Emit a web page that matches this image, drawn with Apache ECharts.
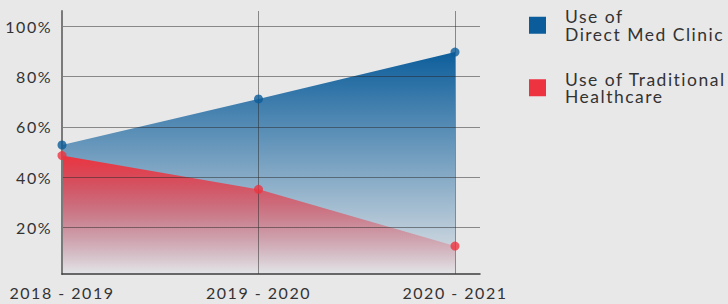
<!DOCTYPE html>
<html><head><meta charset="utf-8">
<script src="https://cdn.jsdelivr.net/npm/echarts@6/dist/echarts.min.js"></script>
<style>
html,body{margin:0;padding:0;background:#e8e8e9;}
#c{width:728px;height:304px;}
#c svg text{letter-spacing:1.5px;}
</style></head><body><div id="c"></div>
<script>
const categories = ['2018 - 2019', '2019 - 2020', '2020 - 2021'];
const directMed = [52.8, 71.1, 89.7];
const traditional = [48.6, 35.2, 12.7];
const seriesNames = ['Use of\nDirect Med Clinic', 'Use of Traditional\nHealthcare'];
const seriesColors = ['#0b5c9a', '#ee3340'];

const FONT = 'Lato';
const chart = echarts.init(document.getElementById('c'), null, {renderer: 'svg'});

function fade(rgb, a0, a1) {
  return new echarts.graphic.LinearGradient(0, 0, 0, 1, [
    {offset: 0, color: 'rgba(' + rgb + ',' + a0 + ')'},
    {offset: 1, color: 'rgba(' + rgb + ',' + a1 + ')'}
  ]);
}

chart.setOption({
  backgroundColor: '#e8e8e9',
  animation: false,
  legend: {
    orient: 'vertical', left: 524, top: 2.5, padding: 5,
    itemWidth: 17, itemHeight: 17, itemGap: 27,
    icon: 'rect',
    data: seriesNames.map((n, i) => ({name: n, icon: 'rect', itemStyle: {color: seriesColors[i]}})),
    textStyle: {fontFamily: FONT, fontSize: 17.5, lineHeight: 17.5, color: '#333', padding: [0, 0, 0, 14]}
  },
  grid: [
    {left: 62, right: 248, top: 11, bottom: 30},
    {left: 62, right: 248, top: 26, bottom: 26},
    {left: 62, right: 273, top: 11, bottom: 30}
  ],
  xAxis: [
    {gridIndex: 0, type: 'value', min: 0, max: 1, z: 5,
     axisLine: {show: true, lineStyle: {color: '#3c3c3c', width: 1.5}},
     axisTick: {show: false}, axisLabel: {show: false}, splitLine: {show: false}},
    {gridIndex: 1, type: 'value', min: 0, max: 1, show: false},
    {gridIndex: 2, type: 'category', boundaryGap: false, data: categories, z: 5,
     axisLine: {show: false}, axisTick: {show: false},
     axisLabel: {margin: 10, fontFamily: FONT, fontSize: 16, color: '#333'},
     splitLine: {show: true, lineStyle: {color: 'rgba(40,40,40,0.5)', width: 1}}}
  ],
  yAxis: [
    {gridIndex: 0, type: 'value', min: 0, max: 1, z: 5,
     axisLine: {show: true, lineStyle: {color: '#7a7a7a', width: 2}},
     axisTick: {show: false}, axisLabel: {show: false}, splitLine: {show: false}},
    {gridIndex: 1, type: 'value', min: 0, max: 100, interval: 20, z: 5,
     axisLine: {show: false}, axisTick: {show: false},
     axisLabel: {showMinLabel: false, margin: 10, fontFamily: FONT, fontSize: 16, color: '#333',
       formatter: v => v === 0 ? '' : v + '%'},
     splitLine: {show: true, showMinLine: false, lineStyle: {color: 'rgba(40,40,40,0.5)', width: 1}}},
    {gridIndex: 2, type: 'value', min: 1.6, max: 106, show: false}
  ],
  series: [
    {name: seriesNames[0], type: 'line', xAxisIndex: 2, yAxisIndex: 2, data: directMed,
     symbol: 'none', lineStyle: {width: 0}, itemStyle: {color: seriesColors[0]},
     areaStyle: {color: fade('13,94,155', 1, 0.02), opacity: 1}, z: 2},
    {name: seriesNames[1], type: 'line', xAxisIndex: 2, yAxisIndex: 2, data: traditional,
     symbol: 'none', lineStyle: {width: 0}, itemStyle: {color: seriesColors[1]},
     areaStyle: {color: fade('236,52,64', 1, 0.0), opacity: 1}, z: 3},
    {name: seriesNames[0], type: 'scatter', xAxisIndex: 2, yAxisIndex: 2, data: directMed,
     symbolSize: 9, itemStyle: {color: seriesColors[0]}, z: 10},
    {name: seriesNames[1], type: 'scatter', xAxisIndex: 2, yAxisIndex: 2, data: traditional,
     symbolSize: 9, itemStyle: {color: seriesColors[1]}, z: 10}
  ]
});
</script></body></html>
